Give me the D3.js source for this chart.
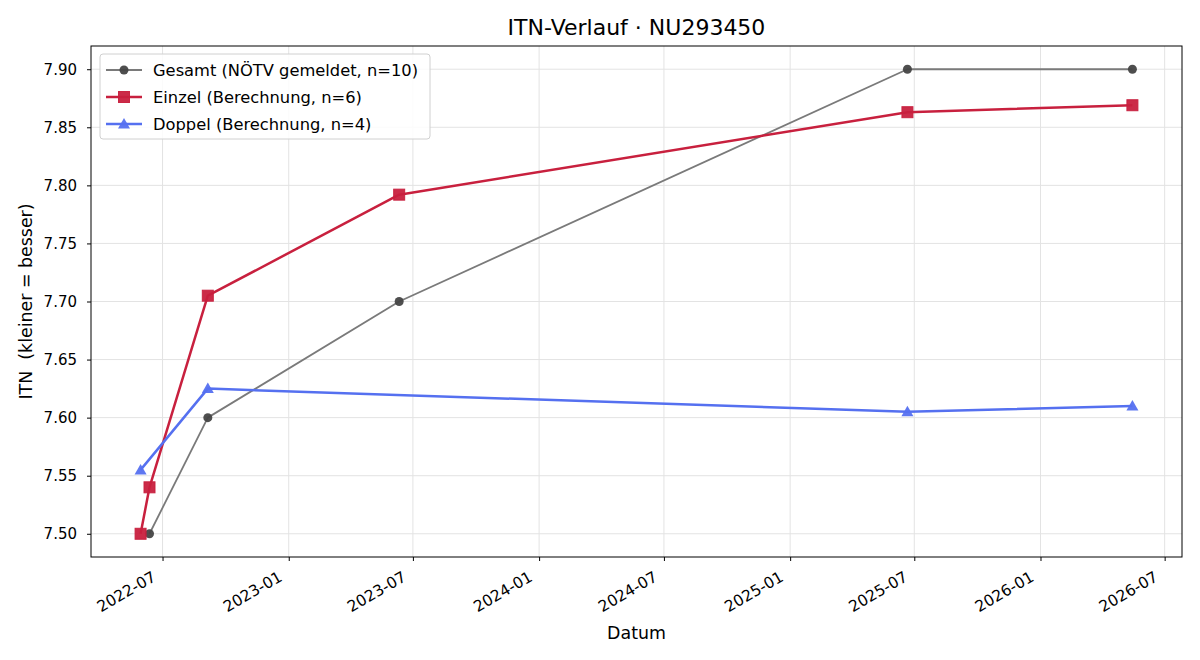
<!DOCTYPE html>
<html>
<head>
<meta charset="utf-8">
<script src="https://cdn.jsdelivr.net/npm/d3@7"></script>
<style>
body { margin: 0; background: #fff; }
svg text { font-family: "DejaVu Sans", sans-serif; white-space: pre; }
</style>
</head>
<body>
<script>
// data
var gesamtDates = ["2022-06-12", "2022-09-05", "2023-06-11", "2025-06-21", "2026-05-15"];
var gesamtValues = [7.50, 7.60, 7.70, 7.90, 7.90];
var einzelDates = ["2022-05-30", "2022-06-12", "2022-09-05", "2023-06-11", "2025-06-21", "2026-05-15"];
var einzelValues = [7.50, 7.54, 7.705, 7.792, 7.863, 7.869];
var doppelDates = ["2022-05-30", "2022-09-05", "2025-06-21", "2026-05-15"];
var doppelValues = [7.555, 7.625, 7.605, 7.61];
var yTicks = [7.50, 7.55, 7.60, 7.65, 7.70, 7.75, 7.80, 7.85, 7.90];
var xTickLabels = ["2022-07", "2023-01", "2023-07", "2024-01", "2024-07", "2025-01", "2025-07", "2026-01", "2026-07"];
var seriesNames = ["Gesamt (NÖTV gemeldet, n=10)", "Einzel (Berechnung, n=6)", "Doppel (Berechnung, n=4)"];

var width = 1200, height = 660;
var pLeft = 91, pRight = 1182, pTop = 46, pBottom = 557;

var parse = d3.timeParse("%Y-%m-%d");
var parseM = d3.timeParse("%Y-%m");

function zip(dates, vals){
	return dates.map(function(d, i){ return {date: parse(d), value: vals[i]}; });
}

var series = [
	{name: seriesNames[0], data: zip(gesamtDates, gesamtValues), line: "#7a7a7a", mark: "#454545", lw: 1.8, shape: "circle"},
	{name: seriesNames[1], data: zip(einzelDates, einzelValues), line: "#c8203e", mark: "#c8203e", lw: 2.5, shape: "square"},
	{name: seriesNames[2], data: zip(doppelDates, doppelValues), line: "#5570f0", mark: "#5570f0", lw: 2.5, shape: "triangle"}
];

// matplotlib style 5% margins
var allDates = [].concat.apply([], series.map(function(s){ return s.data.map(function(d){ return +d.date; }); }));
var allVals = [].concat.apply([], series.map(function(s){ return s.data.map(function(d){ return d.value; }); }));
var dmin = d3.min(allDates), dmax = d3.max(allDates);
var pad = (dmax - dmin) * 0.05;
var vmin = d3.min(allVals), vmax = d3.max(allVals);
var vpad = (vmax - vmin) * 0.05;

var x = d3.scaleTime().domain([new Date(dmin - pad), new Date(dmax + pad)]).range([pLeft, pRight]);
var y = d3.scaleLinear().domain([vmin - vpad, vmax + vpad]).range([pBottom, pTop]);

var svg = d3.select("body").append("svg")
	.attr("width", width)
	.attr("height", height);

var xTicks = xTickLabels.map(function(t){ return parseM(t); });

// grid
svg.append("g").selectAll("line.gx").data(xTicks).enter().append("line")
	.attr("x1", function(d){ return x(d); }).attr("x2", function(d){ return x(d); })
	.attr("y1", pTop).attr("y2", pBottom)
	.attr("stroke", "#e3e3e3").attr("stroke-width", 1);
svg.append("g").selectAll("line.gy").data(yTicks).enter().append("line")
	.attr("x1", pLeft).attr("x2", pRight)
	.attr("y1", function(d){ return y(d); }).attr("y2", function(d){ return y(d); })
	.attr("stroke", "#e3e3e3").attr("stroke-width", 1);

// axes
var xAxis = svg.append("g")
	.attr("transform", "translate(0," + pBottom + ")")
	.call(d3.axisBottom(x).tickValues(xTicks).tickFormat(d3.timeFormat("%Y-%m")).tickSize(4).tickPadding(4));
xAxis.attr("font-size", null).attr("font-family", null);
xAxis.select(".domain").remove();
xAxis.selectAll("text")
	.style("font-size", "15.5px").attr("fill", "#000")
	.attr("text-anchor", "end")
	.attr("y", 0)
	.attr("dy", 0)
	.attr("transform", "translate(-6,23) rotate(-30)");
xAxis.selectAll("line").attr("stroke", "#000");

var yAxis = svg.append("g")
	.attr("transform", "translate(" + pLeft + ",0)")
	.call(d3.axisLeft(y).tickValues(yTicks).tickFormat(d3.format(".2f")).tickSize(4).tickPadding(10));
yAxis.attr("font-size", null).attr("font-family", null);
yAxis.select(".domain").remove();
yAxis.selectAll("text").style("font-size", "15px").attr("fill", "#000");
yAxis.selectAll("line").attr("stroke", "#000");

svg.append("rect")
	.attr("x", pLeft).attr("y", pTop)
	.attr("width", pRight - pLeft).attr("height", pBottom - pTop)
	.attr("fill", "none").attr("stroke", "#000").attr("stroke-width", 1);

// lines + markers
var lineGen = d3.line().x(function(d){ return x(d.date); }).y(function(d){ return y(d.value); });

function marker(g, shape, color, cx, cy, alpha){
	if(shape === "circle"){
		g.append("circle").attr("cx", cx).attr("cy", cy).attr("r", 4.5)
			.attr("fill", color).attr("fill-opacity", alpha);
	}
	if(shape === "square"){
		g.append("rect").attr("x", cx - 5.5).attr("y", cy - 5.5).attr("width", 11).attr("height", 11)
			.attr("fill", color).attr("fill-opacity", alpha)
			.attr("stroke", color).attr("stroke-opacity", alpha);
	}
	if(shape === "triangle"){
		var s = 6;
		g.append("path")
			.attr("d", "M" + cx + "," + (cy - s) + "L" + (cx + s) + "," + (cy + s * 0.75) + "L" + (cx - s) + "," + (cy + s * 0.75) + "Z")
			.attr("fill", color).attr("fill-opacity", alpha);
	}
}

series.forEach(function(s){
	var g = svg.append("g");
	g.append("path")
		.datum(s.data)
		.attr("d", lineGen)
		.attr("fill", "none")
		.attr("stroke", s.line)
		.attr("stroke-width", s.lw)
		.attr("stroke-linejoin", "round");
	s.data.forEach(function(d){
		marker(g, s.shape, s.mark, x(d.date), y(d.value), 0.95);
	});
});

// legend
var lg = svg.append("g").attr("transform", "translate(100,54)");
lg.append("rect")
	.attr("width", 330).attr("height", 85).attr("rx", 3)
	.attr("fill", "#fff").attr("fill-opacity", 0.85)
	.attr("stroke", "#d0d0d0");
series.forEach(function(s, i){
	var yy = 16 + i * 27;
	lg.append("line").attr("x1", 6).attr("x2", 42).attr("y1", yy).attr("y2", yy)
		.attr("stroke", s.line).attr("stroke-width", s.lw);
	marker(lg, s.shape, s.mark, 24, yy, 0.95);
	lg.append("text").attr("x", 53).attr("y", yy).attr("dy", "0.35em")
		.style("font-size", "16.3px").attr("fill", "#000").text(s.name);
});

// titles
svg.append("text").attr("x", (pLeft + pRight) / 2).attr("y", 35)
	.attr("text-anchor", "middle").style("font-size", "22px").attr("fill", "#000")
	.text("ITN-Verlauf · NU293450");
svg.append("text").attr("x", (pLeft + pRight) / 2).attr("y", 639)
	.attr("text-anchor", "middle").style("font-size", "17.4px").attr("fill", "#000")
	.text("Datum");
svg.append("text")
	.attr("transform", "translate(32," + ((pTop + pBottom) / 2) + ") rotate(-90)")
	.attr("text-anchor", "middle").style("font-size", "17.4px").attr("fill", "#000")
	.text("ITN  (kleiner = besser)");
</script>
</body>
</html>
